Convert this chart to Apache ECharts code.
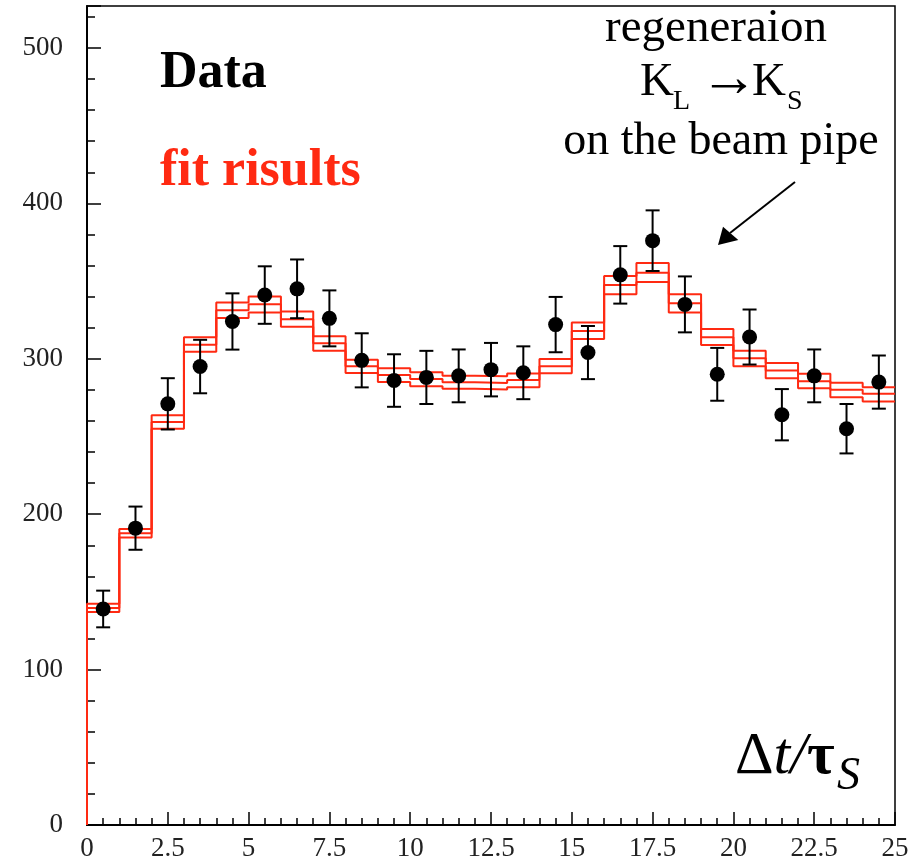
<!DOCTYPE html>
<html>
<head>
<meta charset="utf-8">
<script src="https://cdn.jsdelivr.net/npm/echarts@6/dist/echarts.min.js"></script>
<style>
html,body{margin:0;padding:0;background:#fff;}
#chart{width:920px;height:862px;}
</style>
</head>
<body>
<div id="chart"></div>
<script>
// ---- data ----
var binEdges = [0,1,2,3,4,5,6,7,8,9,10,11,12,13,14,15,16,17,18,19,20,21,22,23,24,25];
var binCenters = [0.5,1.5,2.5,3.5,4.5,5.5,6.5,7.5,8.5,9.5,10.5,11.5,12.5,13.5,14.5,15.5,16.5,17.5,18.5,19.5,20.5,21.5,22.5,23.5,24.5];
var dataCounts = [139,191,271,295,324,341,345,326,299,286,288,289,293,291,322,304,354,376,335,290,314,264,289,255,285];
var dataErrors = [11.8,13.9,16.5,17.2,18.1,18.5,18.9,18.0,17.4,16.9,17.1,17.0,17.2,17.0,17.8,17.1,18.5,19.5,18.0,17.0,17.7,16.5,17.0,15.9,17.1];
var fitUpper  = [142.3,190.5,263.6,313.8,336.2,340.1,330.4,314.5,299.4,293.9,291.3,289.1,288.7,290.6,299.9,323.3,353.2,361.7,341.5,319.1,305.2,297.3,290.3,284.5,281.7];
var fitCenter = [139.7,187.7,259.3,309.0,331.3,335.1,325.5,310.0,295.2,289.6,287.0,284.9,284.4,286.4,295.2,317.9,347.5,355.3,335.8,313.8,300.3,292.4,285.6,280.0,277.5];
var fitLower  = [137.1,185.0,255.0,304.6,326.2,329.8,320.6,305.2,290.9,285.0,282.4,280.7,280.2,281.7,290.7,312.7,341.5,349.4,329.8,308.9,295.2,287.5,281.1,275.3,272.5];
var yMajorTicks = [0,100,200,300,400,500];

// ---- build step outlines from the arrays ----
function stepPoints(vals){
  var pts = [[binEdges[0], 0]];
  for (var i = 0; i < vals.length; i++){
    pts.push([binEdges[i], vals[i]]);
    pts.push([binEdges[i+1], vals[i]]);
  }
  return pts;
}
var errData = dataCounts.map(function(v,i){ return [binCenters[i], v, dataErrors[i]]; });
var ptData = dataCounts.map(function(v,i){ return [binCenters[i], v]; });

var RED = '#ff2a12';
var FONT = 'Liberation Serif';
function stepSeries(vals){
  return {
    type:'line', data: stepPoints(vals), showSymbol:false, symbol:'none',
    lineStyle:{color:RED, width:2}, xAxisIndex:0, yAxisIndex:0, z:2,
    animation:false, silent:true
  };
}

var chart = echarts.init(document.getElementById('chart'), null, {renderer:'canvas'});
var option = {
  animation:false,
  backgroundColor:'#fff',
  grid:{left:87, right:25, top:6, bottom:34, show:true, borderColor:'#000', borderWidth:1.5, backgroundColor:'transparent'},
  xAxis:[{
    type:'value', min:0, max:25, interval:2.5,
    axisLine:{show:true, onZero:false, lineStyle:{color:'#000', width:2}},
    axisTick:{show:true, inside:true, length:13, lineStyle:{color:'#000', width:1.5}},
    minorTick:{show:true, splitNumber:5, length:7, lineStyle:{color:'#000', width:1.5}},
    axisLabel:{color:'#222', fontFamily:FONT, fontSize:27, margin:10},
    splitLine:{show:false}
  }],
  yAxis:[{
    type:'value', min:0, max:527, interval:100, position:'left',
    axisLine:{show:true, onZero:false, lineStyle:{color:'#000', width:2}},
    axisTick:{show:true, inside:true, length:14, lineStyle:{color:'#000', width:1.5}},
    axisLabel:{color:'#222', fontFamily:FONT, fontSize:27, margin:24,
      formatter:function(v){ return yMajorTicks.indexOf(v) >= 0 ? String(v) : ''; }},
    splitLine:{show:false}
  },{
    type:'value', min:0, max:527, interval:20, position:'left',
    axisLine:{show:false},
    axisTick:{show:true, inside:true, length:8, lineStyle:{color:'#000', width:1.5}},
    axisLabel:{show:false},
    splitLine:{show:false}
  }],
  series:[
    stepSeries(fitUpper),
    stepSeries(fitCenter),
    stepSeries(fitLower),
    {
      type:'custom', data:errData, xAxisIndex:0, yAxisIndex:0, z:3, silent:true,
      renderItem:function(params, api){
        var x = api.value(0), y = api.value(1), e = api.value(2);
        var top = api.coord([x, y+e]), bot = api.coord([x, y-e]);
        var hw = 7;
        var st = {stroke:'#000', lineWidth:2};
        return {type:'group', children:[
          {type:'line', shape:{x1:top[0], y1:top[1], x2:bot[0], y2:bot[1]}, style:st},
          {type:'line', shape:{x1:top[0]-hw, y1:top[1], x2:top[0]+hw, y2:top[1]}, style:st},
          {type:'line', shape:{x1:bot[0]-hw, y1:bot[1], x2:bot[0]+hw, y2:bot[1]}, style:st}
        ]};
      }
    },
    {
      type:'scatter', data:ptData, symbol:'circle', symbolSize:15,
      itemStyle:{color:'#000', opacity:1}, xAxisIndex:0, yAxisIndex:0, z:4, silent:true
    }
  ],
  graphic:[
    {type:'text', x:160, y:74, style:{text:'Data', fill:'#000', font:'bold 52px "Liberation Serif"', textAlign:'left', textVerticalAlign:'middle'}},
    {type:'text', x:160, y:172, style:{text:'fit risults', fill:RED, font:'bold 52px "Liberation Serif"', textAlign:'left', textVerticalAlign:'middle'}},
    {type:'text', x:716, y:29, style:{text:'regeneraion', fill:'#000', font:'47px "Liberation Serif"', textAlign:'center', textVerticalAlign:'middle'}},
    {type:'text', x:640, y:83, style:{text:'K', fill:'#000', font:'47px "Liberation Serif"', textAlign:'left', textVerticalAlign:'middle'}},
    {type:'text', x:673, y:102, style:{text:'L', fill:'#000', font:'28px "Liberation Serif"', textAlign:'left', textVerticalAlign:'middle'}},
    {type:'text', x:729, y:81, style:{text:'\u2192', fill:'#000', font:'58px "Liberation Serif"', textAlign:'center', textVerticalAlign:'middle'}},
    {type:'text', x:752, y:83, style:{text:'K', fill:'#000', font:'47px "Liberation Serif"', textAlign:'left', textVerticalAlign:'middle'}},
    {type:'text', x:787, y:102, style:{text:'S', fill:'#000', font:'28px "Liberation Serif"', textAlign:'left', textVerticalAlign:'middle'}},
    {type:'text', x:721, y:142, style:{text:'on the beam pipe', fill:'#000', font:'46px "Liberation Serif"', textAlign:'center', textVerticalAlign:'middle'}},
    {type:'line', shape:{x1:795, y1:182, x2:730, y2:233}, style:{stroke:'#000', lineWidth:2}},
    {type:'polygon', shape:{points:[[718,245],[723,226.7],[738.3,240]]}, style:{fill:'#000'}},
    {type:'text', x:735, y:757, style:{text:'{d|\u0394}{i|t/}{b|\u03c4}', fill:'#000', textAlign:'left', textVerticalAlign:'middle',
      rich:{
        d:{fontFamily:FONT, fontSize:60, fontStyle:'normal', fill:'#000'},
        i:{fontFamily:FONT, fontSize:60, fontStyle:'italic', fill:'#000'},
        b:{fontFamily:FONT, fontSize:60, fontWeight:'bold', fontStyle:'normal', fill:'#000'}
      }}},
    {type:'text', x:837, y:777, style:{text:'S', fill:'#000', font:'italic 46px "Liberation Serif"', textAlign:'left', textVerticalAlign:'middle'}}
  ]
};
chart.setOption(option);
</script>
</body>
</html>
